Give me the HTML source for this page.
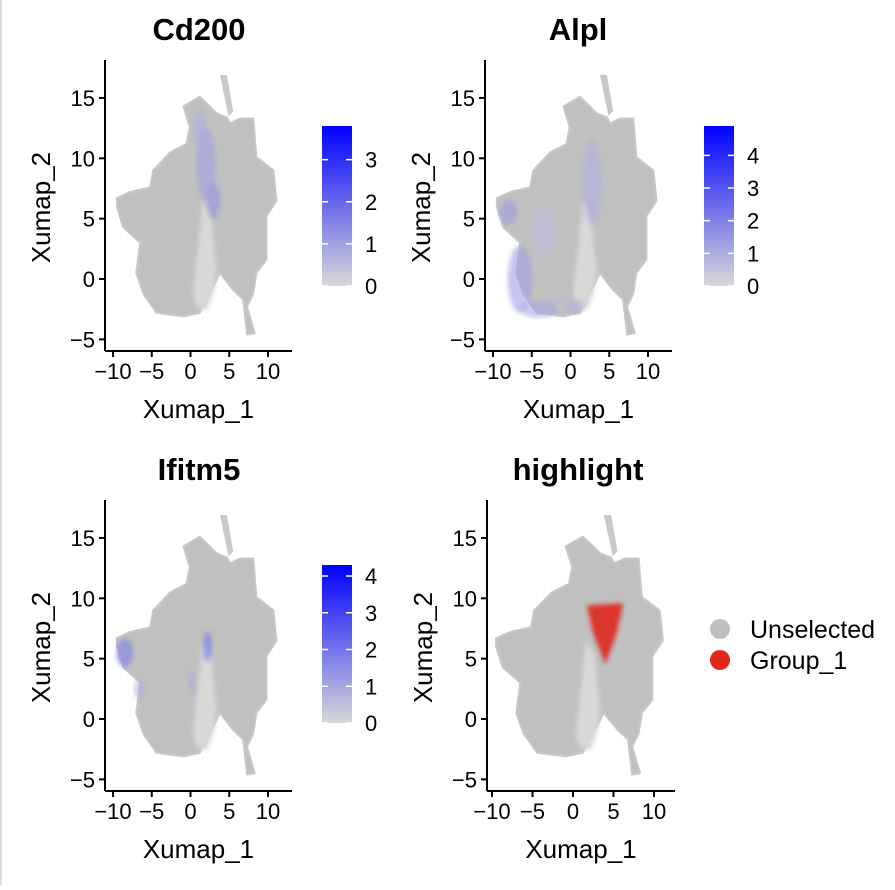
<!DOCTYPE html>
<html><head><meta charset="utf-8"><style>
body{margin:0;background:#fff;}
svg text{font-family:"Liberation Sans",sans-serif;fill:#000;}
</style></head><body>
<svg id="fig" width="895" height="885" xmlns="http://www.w3.org/2000/svg">
<rect x="0" y="0" width="895" height="885" fill="#fff"/>
<line x1="1" y1="0" x2="1" y2="885" stroke="#ddd" stroke-width="2"/>
<defs>
<linearGradient id="cb" x1="0" y1="1" x2="0" y2="0"><stop offset="0" stop-color="#d9d9d9"/><stop offset="1" stop-color="#0000ff"/></linearGradient>
<filter id="soft"><feGaussianBlur stdDeviation="2.5"/></filter>
</defs>
</svg>
<script>
// Data (UMAP coordinates)
const xTicks = [-10, -5, 0, 5, 10];
const yTicks = [-5, 0, 5, 10, 15];
const outlineX = [-9.5,-7.8,-5.2,-4.8,-2.6,-0.5,-0.1,-0.9,1.2,2.5,3.4,4.7,5.1,6.4,8.1,8.5,10.7,11.1,9.8,9.8,8.5,8.1,7.3,8.3,7.3,6.8,5.5,3.8,2.5,1.2,-0.9,-4.4,-6.1,-7.0,-6.5,-8.7,-9.5];
const outlineY = [6.7,7.2,7.6,9.0,10.5,11.2,12.6,14.3,15.1,14.3,13.7,13.4,12.9,13.3,13.3,10.1,9.0,6.5,5.2,1.6,0.5,-1.2,-2.3,-4.5,-4.6,-1.7,-0.9,0.5,-1.2,-2.8,-3.1,-2.8,-1.2,0.5,3.0,4.3,6.0];
const spikeX = [3.8,4.7,5.5,4.9];
const spikeY = [16.9,16.9,13.9,13.5];
const gapX = [1.6,2.6,3.4,3.0,2.2,1.0,0.3];
const gapY = [6.5,5.5,0.8,-1.0,-2.5,-2.6,-1.2];
// expression hotspots: [x, y, rx, ry, value]
const cd200Spots = [[2.0,9.5,1.2,3.0,1.0],[3.0,6.5,0.9,1.5,1.2],[1.2,12.5,0.8,1.5,0.8]];
const alplSpots = [[-6.5,0,1.6,2.8,1.3],[-4,-2.5,2.5,0.7,1.2],[-8,5.5,1.2,1.0,1.4],[2.8,8,1.2,3.5,1.0],[0.5,-2.3,1.2,0.6,1.0],[-3.5,4,1.5,2,0.6]];
const ifitm5Spots = [[-8.5,5.5,1.1,1.2,1.8],[2.2,6,0.6,1.2,2.0],[-6.5,2.5,0.8,0.8,0.8],[0.2,3,0.5,1.0,0.9]];
const groupX = [1.7,6.2,5.4,4.0,2.5];
const groupY = [9.4,9.6,7.1,4.5,7.1];
const cbTicks1 = [0,1,2,3], cbMax1 = 3.8;
const cbTicks2 = [0,1,2,3,4], cbMax2 = 4.9;
const cbTicks3 = [0,1,2,3,4], cbMax3 = 4.3;
const legendLabels = ['Unselected','Group_1'];
const legendColors = ['#bebebe','#e0281f'];

const svg = document.getElementById('fig');
const NS = 'http://www.w3.org/2000/svg';
function mk(tag, attrs, parent){const e=document.createElementNS(NS,tag);for(const k in attrs)e.setAttribute(k,attrs[k]);(parent||svg).appendChild(e);return e;}
function lerpColor(v,max){const t=Math.min(1,v/max);const r=Math.round(217*(1-t)),g=Math.round(217*(1-t)),b=Math.round(217+(255-217)*t);return `rgb(${r},${g},${b})`;}

function panel(p){
  const sx = v => p.x0 + v*p.kx;
  const sy = v => p.y0 - v*p.ky;
  const g = mk('g',{});
  
  
  const t = mk('text',{x:p.tx,y:p.ty,'font-size':31,'font-weight':'bold','text-anchor':'middle'},g);
  t.textContent = p.title;
  
  
  const pts = outlineX.map((x,i)=>sx(x)+','+sy(outlineY[i])).join(' ');
  const cloud = mk('polygon',{points:pts,fill:'#c0c0c0',stroke:'#c8c8c8','stroke-width':2,'stroke-linejoin':'round'},g);
  
  
  const sp = mk('polygon',{points:spikeX.map((x,i)=>sx(x)+','+sy(spikeY[i])).join(' '),fill:'#c8c8c8'},g);
  
  
  const gp = mk('polygon',{points:gapX.map((x,i)=>sx(x)+','+sy(gapY[i])).join(' '),fill:'#d8d8d8',filter:'url(#soft)'},g);
  
  
  if(p.spots){
    p.spots.forEach((s,i)=>{
      const e = mk('ellipse',{cx:sx(s[0]),cy:sy(s[1]),rx:s[2]*p.kx,ry:s[3]*p.ky,fill:lerpColor(s[4],p.cbMax),opacity:0.6,filter:'url(#soft)'},g);
      
      
    });
  }
  if(p.group){
    const r = mk('polygon',{points:groupX.map((x,i)=>sx(x)+','+sy(groupY[i])).join(' '),fill:'#e0281f',opacity:0.9,filter:'url(#soft)'},g);
    
    
  }
  const xa = mk('line',{x1:p.ax,y1:p.ay,x2:p.axEnd,y2:p.ay,stroke:'#000','stroke-width':2},g);
  
  
  const ya = mk('line',{x1:p.ax,y1:p.ay,x2:p.ax,y2:p.ayTop,stroke:'#000','stroke-width':2},g);
  
  
  xTicks.forEach(v=>{
    mk('line',{x1:sx(v),y1:p.ay,x2:sx(v),y2:p.ay+6,stroke:'#000','stroke-width':2},g);
    const tl = mk('text',{x:sx(v),y:p.ay+28,'font-size':22,'text-anchor':'middle'},g);
    tl.textContent = v<0?'\u2212'+(-v):String(v);
    
    
  });
  yTicks.forEach(v=>{
    mk('line',{x1:p.ax-6,y1:sy(v),x2:p.ax,y2:sy(v),stroke:'#000','stroke-width':2},g);
    const tl = mk('text',{x:p.ax-10,y:sy(v)+8,'font-size':22,'text-anchor':'end'},g);
    tl.textContent = v<0?'\u2212'+(-v):String(v);
    
    
  });
  const xt = mk('text',{x:(p.ax+p.axEnd)/2,y:p.ay+67,'font-size':26,'text-anchor':'middle'},g);
  xt.textContent='Xumap_1';
  
  
  const yy = (p.ay+p.ayTop)/2 + 2;
  const yt = mk('text',{x:p.ax-55,y:yy,'font-size':26,'text-anchor':'middle',transform:`rotate(-90 ${p.ax-55} ${yy})`},g);
  yt.textContent='Xumap_2';
  
  
  if(p.cbTicks){
    const cbx=p.cbx, top=p.cbTop, bot=p.cbBot;
    const cb = mk('rect',{x:cbx,y:top,width:30,height:bot-top,fill:'url(#cb)'},g);
    
    
    const cs = v => bot - (bot-top)*v/p.cbMax;
    p.cbTicks.forEach(v=>{
      mk('line',{x1:cbx,y1:cs(v),x2:cbx+6,y2:cs(v),stroke:'#fff','stroke-width':1.5},g);
      mk('line',{x1:cbx+24,y1:cs(v),x2:cbx+30,y2:cs(v),stroke:'#fff','stroke-width':1.5},g);
      const cl = mk('text',{x:cbx+43,y:cs(v)+8,'font-size':22},g);
      cl.textContent=String(v);
      
      
    });
  }
}

panel({name:'cd200',title:'Cd200',tx:199,ty:40,x0:190.5,kx:7.75,y0:279,ky:12.07,ax:105,ay:351,axEnd:292,ayTop:60,spots:cd200Spots,cbMax:cbMax1,cbTicks:cbTicks1,cbx:322,cbTop:126,cbBot:286});
panel({name:'alpl',title:'Alpl',tx:578,ty:40,x0:570.5,kx:7.75,y0:279,ky:12.07,ax:485,ay:351,axEnd:672,ayTop:60,spots:alplSpots,cbMax:cbMax2,cbTicks:cbTicks2,cbx:704,cbTop:126,cbBot:286});
panel({name:'ifitm5',title:'Ifitm5',tx:199,ty:480,x0:190.5,kx:7.75,y0:719,ky:12.07,ax:105,ay:791,axEnd:292,ayTop:500,spots:ifitm5Spots,cbMax:cbMax3,cbTicks:cbTicks3,cbx:322,cbTop:565,cbBot:723});
panel({name:'highlight',title:'highlight',tx:578,ty:480,x0:573,kx:8.1,y0:719,ky:12.07,ax:487,ay:791,axEnd:675,ayTop:500,group:true});

legendLabels.forEach((l,i)=>{
  const y = 629 + i*31;
  const c = mk('circle',{cx:720,cy:y,r:10,fill:legendColors[i]});
  
  
  const t = mk('text',{x:750,y:y+9,'font-size':25});
  t.textContent = l;
  
  
});
</script>
</body></html>
